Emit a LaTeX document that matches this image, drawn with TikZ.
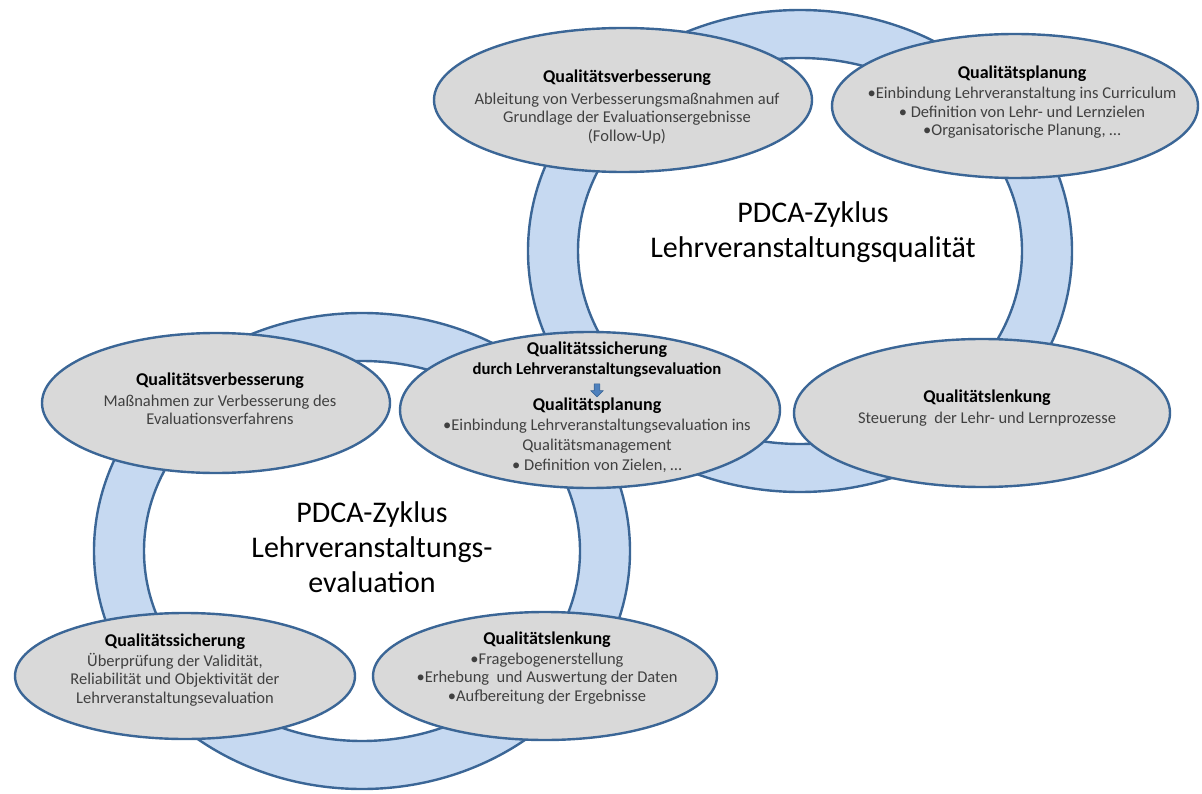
\documentclass[tikz,border=0pt]{standalone}
\usepackage{fontspec}
\setmainfont{Carlito}
\usetikzlibrary{shapes.geometric,shapes.arrows}
\definecolor{vien}{HTML}{3B6696}
\definecolor{nenvong}{HTML}{C6D9F1}
\definecolor{xam}{HTML}{D9D9D9}
\definecolor{chu}{HTML}{404040}
\definecolor{muiten}{HTML}{4F81BD}
\newcommand{\tieude}[1]{{\color{black}\bfseries\fontsize{18}{18.5}\selectfont #1}}
\begin{document}
\begin{tikzpicture}[x=1pt,y=-1pt, line join=round, line cap=round,
	vong/.style={fill=nenvong, draw=vien, line width=2.4pt, even odd rule},
	oval/.style={ellipse, fill=xam, draw=vien, line width=2.4pt, inner sep=0pt},
	txt/.style={align=center, text=chu, font=\fontsize{16.5}{18.5}\selectfont},
	lon/.style={align=center, text=black, font=\fontsize{30}{35}\selectfont}]
	\useasboundingbox (0,0) rectangle (1202,794);
	% hai vong PDCA
	\path[vong] (800,251) ellipse [x radius=272, y radius=241]
	(800,251) ellipse [x radius=222, y radius=193];
	\path[vong] (362,551) ellipse [x radius=268, y radius=238]
	(362,551) ellipse [x radius=218, y radius=190];
	% vong tren
	\node[oval, minimum width=378pt, minimum height=144pt] (verbA) at (623,100) {};
	\node[oval, minimum width=366pt, minimum height=144pt] (planA) at (1015,106) {};
	\node[oval, minimum width=376pt, minimum height=148pt] (lenkA) at (982,413) {};
	% vong duoi
	\node[oval, minimum width=348pt, minimum height=140pt] (verbB) at (216,403) {};
	\node[oval, minimum width=340pt, minimum height=126pt] (sichB) at (185,676) {};
	\node[oval, minimum width=344pt, minimum height=128pt] (lenkB) at (545,676) {};
	% o giua
	\node[oval, minimum width=380pt, minimum height=156pt] (giua) at (590,410) {};
	\path
	(627,107) node[txt] (verbAt) {\tieude{Qualitätsverbesserung}\\[3pt]
		Ableitung von Verbesserungsmaßnahmen auf\\
		Grundlage der Evaluationsergebnisse\\
		(Follow-Up)}
	(1022,102) node[txt] (planAt) {\tieude{Qualitätsplanung}\\[2pt]
		•Einbindung Lehrveranstaltung ins Curriculum\\
		• Definition von Lehr- und Lernzielen\\
		•Organisatorische Planung, …}
	(987,408) node[txt] (lenkAt) {\tieude{Qualitätslenkung}\\[2pt]
		Steuerung \ der Lehr- und Lernprozesse}
	(220,399) node[txt] (verbBt) {\tieude{Qualitätsverbesserung}\\[2pt]
		Maßnahmen zur Verbesserung des\\
		Evaluationsverfahrens}
	(175,670) node[txt] (sichBt) {\tieude{Qualitätssicherung}\\[1pt]
		Überprüfung der Validität,\\
		Reliabilität und Objektivität der\\
		Lehrveranstaltungsevaluation}
	(547,668) node[txt] (lenkBt) {\tieude{Qualitätslenkung}\\[1pt]
		•Fragebogenerstellung\\
		•Erhebung \ und Auswertung der Daten\\
		•Aufbereitung der Ergebnisse}
	(597,360) node[txt, text=black, font=\bfseries\fontsize{16.7}{20}\selectfont] (giuaA) {{\fontsize{18}{20}\selectfont Qualitätssicherung}\\
		durch Lehrveranstaltungsevaluation}
	(597,435) node[txt, font=\fontsize{16.5}{20}\selectfont] (giuaB) {\tieude{Qualitätsplanung}\\
		•Einbindung Lehrveranstaltungsevaluation ins\\
		Qualitätsmanagement\\
		• Definition von Zielen, …}
	(813,232) node[lon] (pdcaA) {PDCA-Zyklus\\Lehrveranstaltungsqualität}
	(372,547) node[lon] (pdcaB) {PDCA-Zyklus\\Lehrveranstaltungs-\\evaluation};
	\node[single arrow, fill=muiten, draw=vien, line width=.6pt, rotate=-90,
	inner sep=2.5pt, minimum height=13pt, single arrow head extend=3.5pt] (mui) at (597,389) {};
\end{tikzpicture}
\end{document}
